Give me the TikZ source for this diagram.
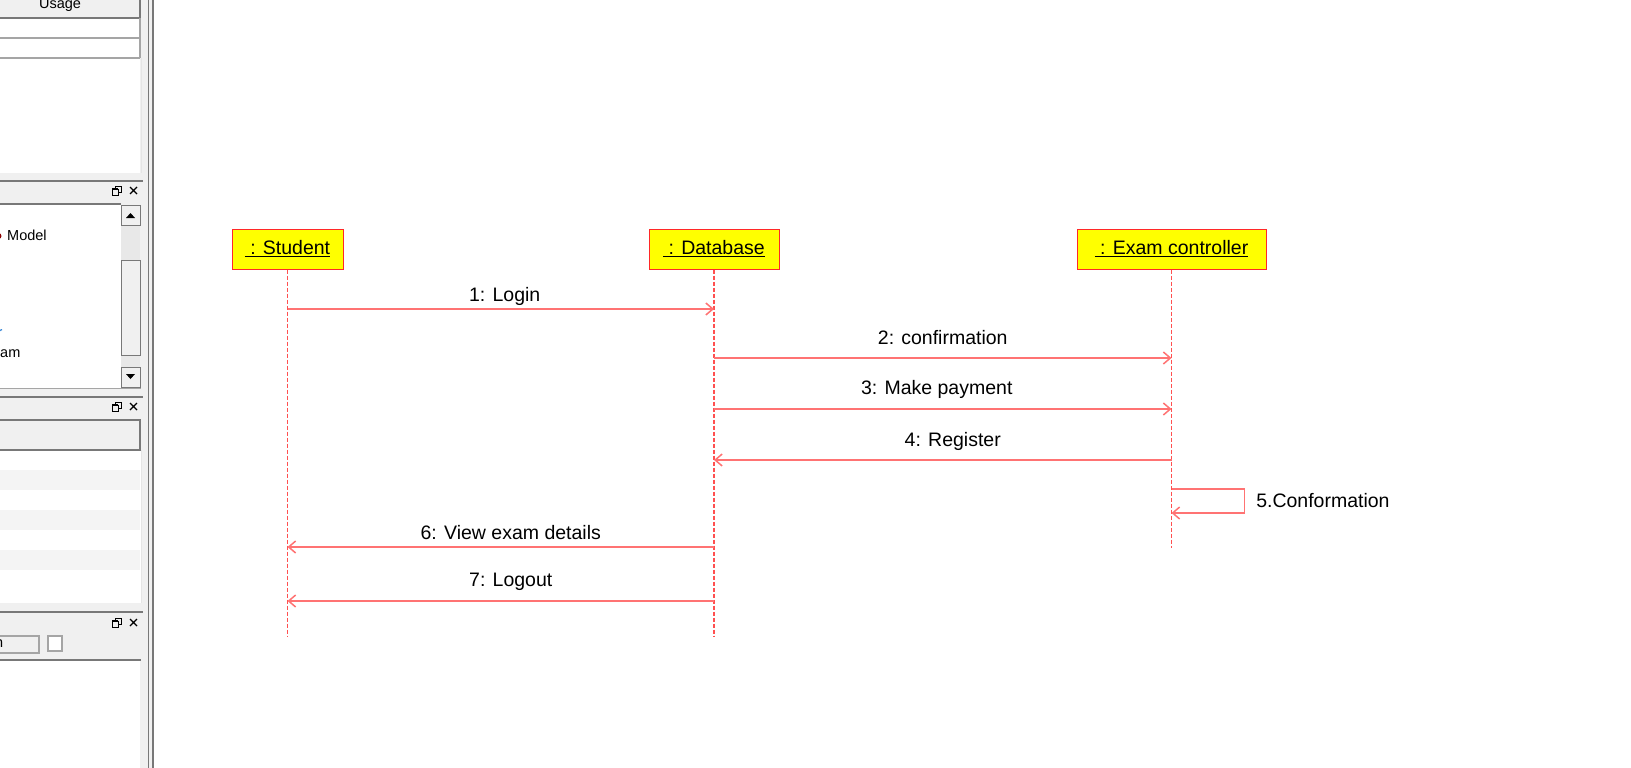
\documentclass[tikz,border=0pt]{standalone}
\usepackage{fontspec}
\setmainfont{Liberation Sans}
\usetikzlibrary{arrows.meta}

\definecolor{boxred}{RGB}{255,40,40}
\definecolor{lifered}{RGB}{255,80,80}
\definecolor{msgred}{RGB}{255,115,115}
\definecolor{objyellow}{RGB}{255,255,0}
\definecolor{panelgray}{RGB}{240,240,240}
\definecolor{trackgray}{RGB}{232,232,232}
\definecolor{stripegray}{RGB}{244,244,244}
\definecolor{edgegray}{RGB}{165,165,165}
\definecolor{framegray}{RGB}{120,120,120}
\definecolor{treeblue}{RGB}{0,102,204}

\tikzset{
  object/.style={draw=boxred, line width=1pt, fill=objyellow, minimum height=40pt,
    inner sep=0pt, font=\fontsize{19.5}{23}\selectfont},
  lifeline/.style={draw=lifered, line width=1.3pt, dash pattern=on 4pt off 2pt},
  msg/.style={draw=msgred, line width=1.5pt, -{Straight Barb[length=7pt,width=12pt]}},
  msglabel/.style={font=\fontsize{19.5}{23}\selectfont, inner sep=0pt, anchor=base},
  paneltext/.style={font=\fontsize{14.5}{17}\selectfont, inner sep=0pt},
}

% small restore/close buttons of a docked panel header
\newcommand\dockbtns[1]{%
  \draw[black, line width=1pt] (115,#1-5) rectangle (121,#1+1);
  \filldraw[fill=panelgray, draw=black, line width=1pt] (112,#1-2) rectangle (118,#1+4);
  \draw[black, line width=1.6pt] (112,#1-2) -- (118,#1-2);
  \draw[black, line width=1.2pt] (130,#1-4) -- (137,#1+3) (130,#1+3) -- (137,#1-4);
}

\begin{document}
\begin{tikzpicture}[x=1pt,y=-1pt]
  \useasboundingbox (0,0) rectangle (1631,768);
  \fill[white] (0,0) rectangle (1631,768);
  \pgfmathsetmacro\boxy{249}
  \pgfmathsetmacro\lifeend{637}

% docked panels at left
  \fill[panelgray] (0,0) rectangle (143,768);
  \filldraw[fill=panelgray, draw=framegray, line width=1.3pt] (-2,-2) rectangle (140,18);
  \node[paneltext] at (60,5) {Usage};
  \fill[white] (0,19) rectangle (140,173);
  \draw[edgegray, line width=1.2pt] (0,38) -- (140,38) (0,58) -- (140,58) (140,18) -- (140,58);
  \draw[white!90!black] (141,58) -- (141,173);

  \draw[framegray, line width=1.5pt] (0,181) -- (143,181);
  \draw[framegray, line width=1.5pt] (0,204) -- (121,204);
  \dockbtns{191}
  \fill[white] (0,205) rectangle (121,388);
  \fill[red!55!black] (-1.5,236) circle (3pt);
  \node[paneltext, anchor=west] at (7,235) {Model};
  \node[paneltext, anchor=west, text=treeblue] at (-2.5,334) {r};
  \node[paneltext, anchor=west] at (0,354) {am};
% scroll bar
  \fill[trackgray] (121,205) rectangle (140,387);
  \filldraw[fill=panelgray, draw=framegray] (121,205) rectangle (140,225);
  \fill[black] (126,218) -- (135,218) -- (130.5,213) -- cycle;
  \filldraw[fill=panelgray, draw=framegray] (121,260) rectangle (140,355);
  \filldraw[fill=panelgray, draw=framegray] (121,367) rectangle (140,387);
  \fill[black] (126,374) -- (135,374) -- (130.5,379) -- cycle;
  \draw[edgegray] (0,388) -- (141,388);

  \draw[framegray, line width=1.5pt] (0,397) -- (143,397);
  \dockbtns{407}
  \fill[white] (0,419) rectangle (141,603);
  \filldraw[fill=panelgray, draw=framegray, line width=1.2pt] (-2,420) rectangle (140,450);
  \fill[stripegray] (0,470) rectangle (140,490);
  \fill[stripegray] (0,510) rectangle (140,530);
  \fill[stripegray] (0,550) rectangle (140,570);
  \draw[white!90!black] (141,450) -- (141,603);

  \draw[framegray, line width=1.5pt] (0,612) -- (143,612);
  \dockbtns{623}
  \filldraw[fill=panelgray, draw=edgegray, line width=1.2pt] (-2,636) rectangle (39,653);
  \node[paneltext, anchor=west] at (-5,644) {n};
  \filldraw[fill=white, draw=edgegray, line width=1.2pt] (48,636) rectangle (62,651);
  \draw[framegray, line width=1.5pt] (0,660) -- (141,660);
  \fill[white] (0,661) rectangle (140,768);

% splitter
  \fill[panelgray] (143,0) rectangle (154,768);
  \draw[framegray, line width=1.5pt] (148.5,0) -- (148.5,768);
  \draw[framegray, line width=1.5pt] (153.2,0) -- (153.2,768);

% objects
  \node[object, minimum width=111pt] (student) at (287.5,\boxy) {\underline{\ : Student}};
  \node[object, minimum width=130pt] (database) at (714,\boxy) {\underline{\ : Database}};
  \node[object, minimum width=189pt] (exam) at (1171.5,\boxy) {\underline{\ : Exam controller}};

% lifelines
  \coordinate (studentend) at (student |- 0,\lifeend);
  \coordinate (databaseend) at (database |- 0,\lifeend);
  \coordinate (examend) at (exam |- 0,548);
  \draw[lifeline] (student.south) -- (studentend);
  \draw[lifeline] (database.south) -- (databaseend);
  \draw[lifeline] (exam.south) -- (examend);

% messages
  \coordinate (m1) at (0,309);
  \coordinate (m2) at (0,358);
  \coordinate (m3) at (0,409);
  \coordinate (m4) at (0,460);
  \coordinate (m5) at (0,489);
  \coordinate (m5back) at (0,513);
  \coordinate (m6) at (0,547);
  \coordinate (m7) at (0,601);
  \draw[msg] (student |- m1) -- node[msglabel, yshift=8pt, xshift=4pt] {1: Login} (database |- m1);
  \draw[msg] (database |- m2) -- node[msglabel, yshift=14pt] {2: confirmation} (exam |- m2);
  \draw[msg] (database |- m3) -- node[msglabel, yshift=15pt, xshift=-6pt] {3: Make payment} (exam |- m3);
  \draw[msg] (exam |- m4) -- node[msglabel, yshift=14pt, xshift=10pt] {4: Register} (database |- m4);
  \draw[msg] (exam |- m5) -- ++(73,0)
    -- node[msglabel, anchor=west, xshift=11pt] {5.Conformation} ++(0,24) -- (exam |- m5back);
  \draw[msg] (database |- m6) -- node[msglabel, yshift=8pt, xshift=10pt] {6: View exam details} (student |- m6);
  \draw[msg] (database |- m7) -- node[msglabel, yshift=15pt, xshift=10pt] {7: Logout} (student |- m7);

\end{tikzpicture}
\end{document}
